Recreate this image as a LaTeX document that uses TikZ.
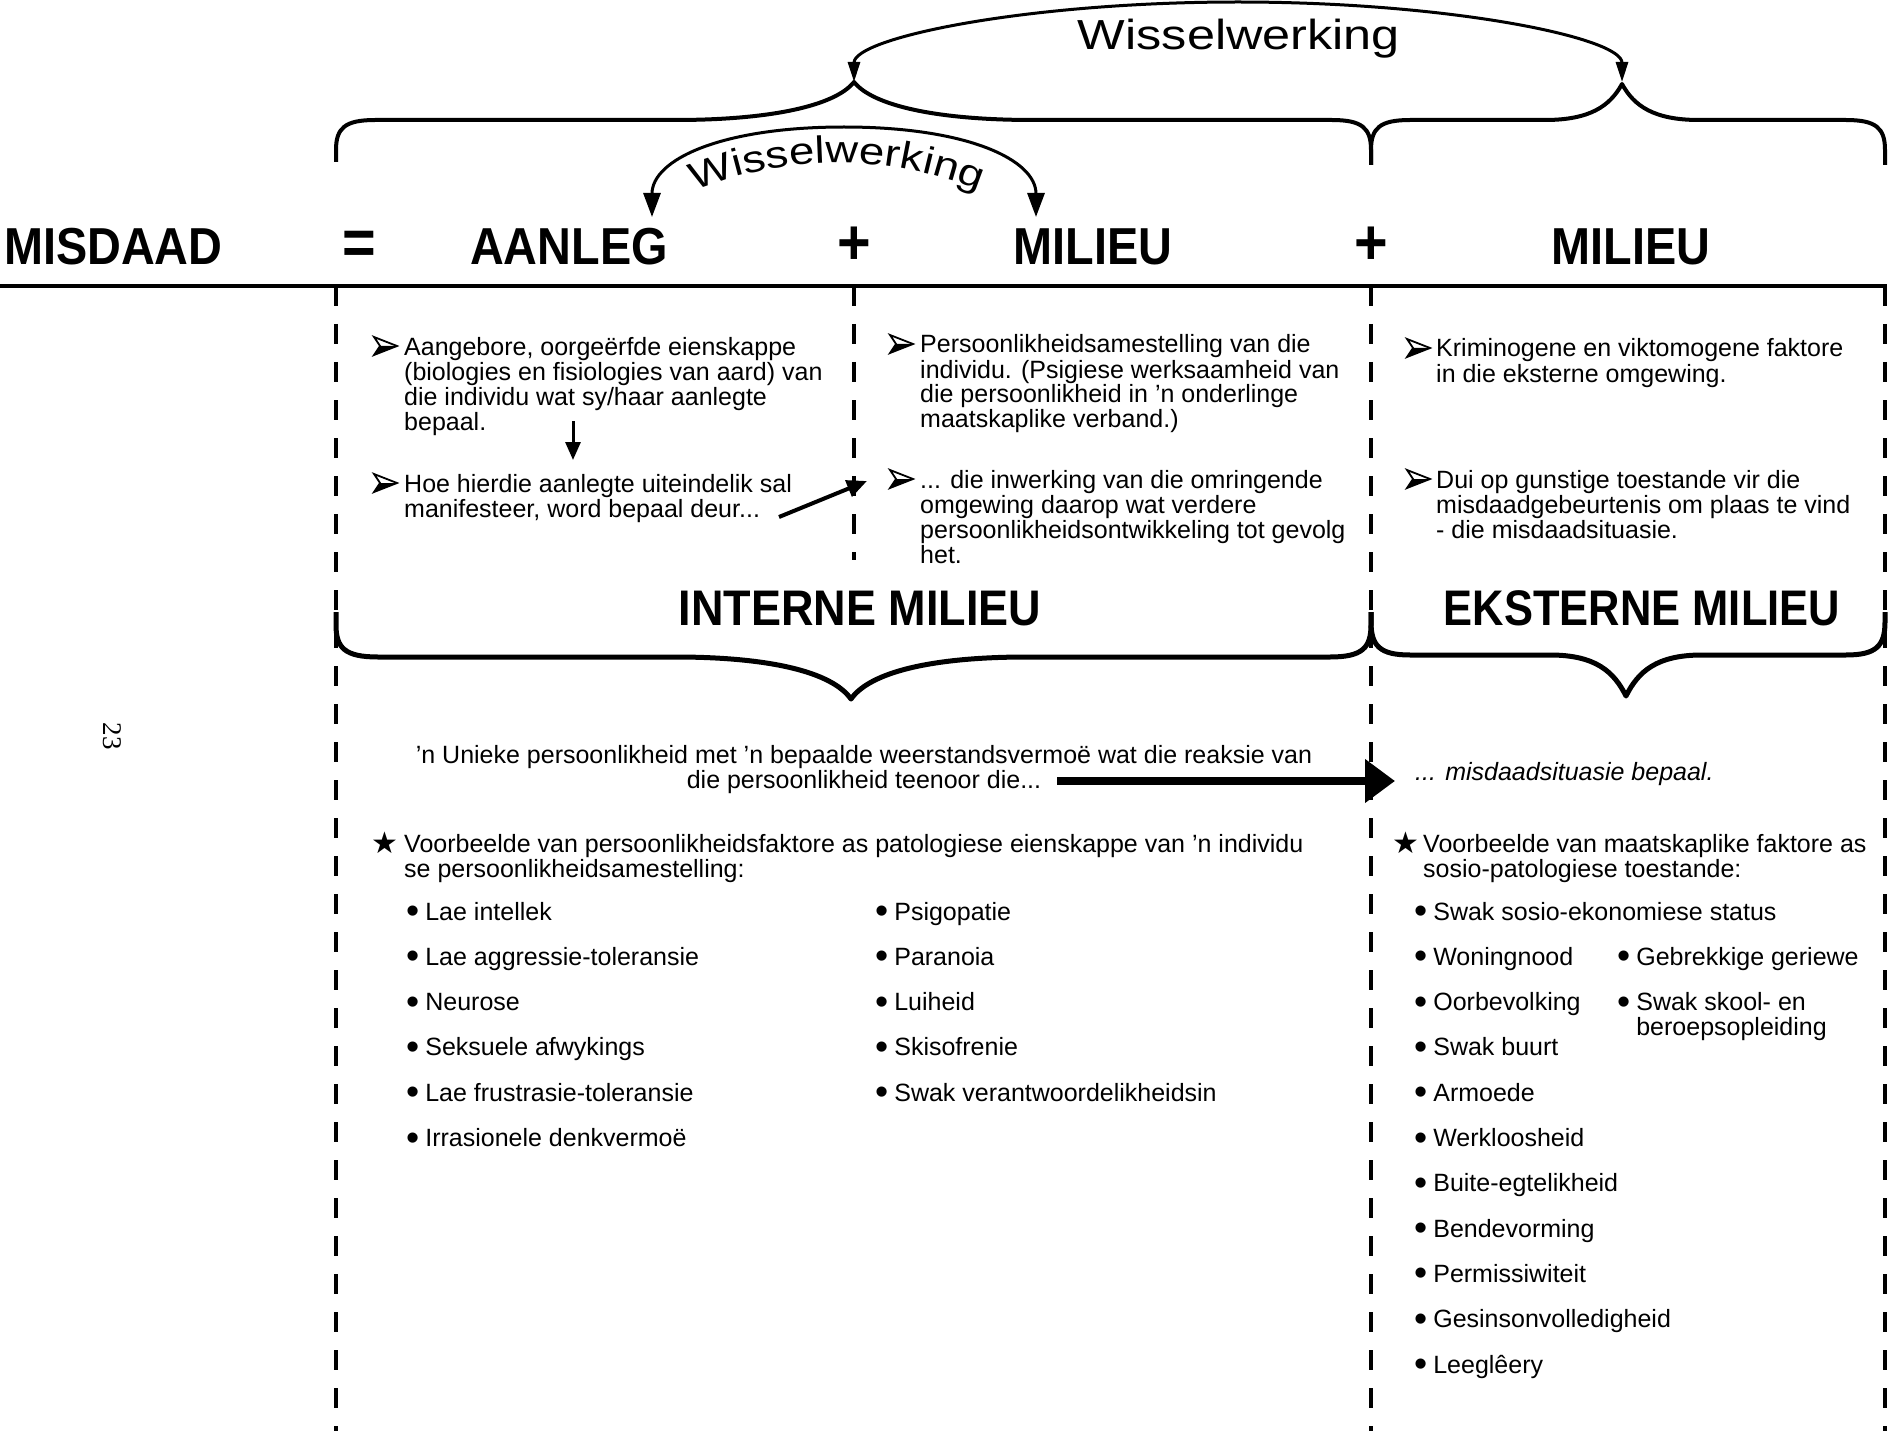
\documentclass[tikz,border=0pt]{standalone}
\usepackage{fontspec}
\usepackage{graphicx}
\setmainfont{Liberation Sans}
\newfontfamily\hdrfont{Liberation Sans}[FakeStretch=0.9]
\newfontfamily\hdrfontn{Liberation Sans}[FakeStretch=0.87]
\newfontfamily\wwfont{Liberation Sans}[FakeStretch=1.2]
\newfontfamily\symfont{DejaVu Sans}
\newfontfamily\pgnfont{Liberation Serif}
\newcommand\bul{\raisebox{-3.5pt}{\scalebox{1.5}{•}}\hspace{6pt}}
\usetikzlibrary{arrows.meta,decorations.text}
\tikzset{
  hdr/.style={font=\hdrfont\bfseries\fontsize{52}{52}\selectfont, inner sep=0pt, anchor=base},
  opr/.style={font=\hdrfont\bfseries\fontsize{64}{64}\selectfont, inner sep=0pt, anchor=base},
  body/.style={font=\fontsize{25}{25}\selectfont, inner sep=0pt, align=left, anchor=base west},
  dline/.style={line width=4.5pt, dash pattern=on 20pt off 18pt},
  brc/.style={line width=4pt, line join=round},
  brcb/.style={line width=5pt, line join=round},
  arrb/.pic={
    \fill (-5,0) -- (12,0) -- (-11,-9) -- cycle;
    \draw[line width=1.8pt, line join=miter] (-11,9) -- (12,0) -- (-11,-9) -- (-5,0) -- cycle;
  },
  starsym/.style={font=\symfont\fontsize{30}{30}\selectfont, inner sep=0pt},
}
\begin{document}
\begin{tikzpicture}[x=1pt, y=1pt]
\useasboundingbox (0,0) rectangle (1891,-1431);

% ---------- header row ----------
\node[hdr, anchor=base west] (misdaad) at (4,-265) {MISDAAD};
\node[opr] (eq) at (359,-265) {=};
\node[hdr] (aanleg) at (569,-265) {AANLEG};
\node[opr] (plus1) at (854,-265) {+};
\node[hdr] (milieu1) at (1093,-265) {MILIEU};
\node[opr] (plus2) at (1371,-265) {+};
\node[hdr] (milieu2) at (1631,-265) {MILIEU};

% main rule and dashed columns
\draw[line width=4pt] (0,-286) -- (1887,-286);
\draw[dline] (336,-286) -- (336,-1431);
\draw[dline] (854,-286) -- (854,-560);
\draw[dline] (1371,-286) -- (1371,-1431);
\draw[dline] (1885,-286) -- (1885,-1431);

% ---------- top braces ----------
\draw[brc] (336,-162) -- (336,-150) .. controls (336,-128) and (345,-120) .. (375,-120)
  -- (675,-120) .. controls (770,-120) and (835,-106) .. (854,-82)
  .. controls (873,-106) and (938,-120) .. (1033,-120)
  -- (1332,-120) .. controls (1362,-120) and (1371,-128) .. (1371,-150) -- (1371,-165);
\draw[brc] (1371,-165) -- (1371,-150) .. controls (1371,-128) and (1380,-120) .. (1410,-120)
  -- (1545,-120) .. controls (1590,-120) and (1610,-106) .. (1622,-84)
  .. controls (1634,-106) and (1654,-120) .. (1699,-120)
  -- (1846,-120) .. controls (1876,-120) and (1885,-128) .. (1885,-150) -- (1885,-165);

% big Wisselwerking arc
\coordinate (wwL) at (854,-82);
\draw[line width=3pt, {Triangle[length=20pt,width=12pt]}-{Triangle[length=20pt,width=12pt]}]
  (wwL) arc[start angle=180, end angle=0, x radius=384, y radius=80];
\node[font=\wwfont\fontsize{42}{42}\selectfont, inner sep=0pt, anchor=base] (ww1) at (1239,-50) {Wisselwerking};

% small Wisselwerking arc
\coordinate (swL) at (652,-217);
\coordinate (swR) at (1036,-217);
\draw[line width=3pt, {Triangle[length=24pt,width=17pt]}-{Triangle[length=24pt,width=17pt]}]
  (swL) .. controls (652,-160) and (720,-127) .. (844,-127)
  .. controls (968,-127) and (1036,-160) .. (swR);
\path[decorate, decoration={text along path, text align=center,
  text={|\wwfont\fontsize{38}{38}\selectfont|Wisselwerking}}]
  (837,-542) ++(120:379) arc[start angle=120, end angle=60, radius=379];

% ---------- upper column texts (base = last line) ----------
\pic at (385,-346) {arrb};
\node[body] (a1) at (404,-430) {Aangebore, oorgeërfde eienskappe\\(biologies en fisiologies van aard) van\\die individu wat sy/haar aanlegte\\bepaal.};
\pic at (385,-483) {arrb};
\node[body] (a2) at (404,-517) {Hoe hierdie aanlegte uiteindelik sal\\manifesteer, word bepaal deur...};

\pic at (901,-344) {arrb};
\node[body] (m1) at (920,-428) {Persoonlikheidsamestelling van die\\individu. (Psigiese werksaamheid van\\die persoonlikheid in 'n onderlinge\\maatskaplike verband.)};
\pic at (901,-479) {arrb};
\node[body] (m2) at (920,-563) {... die inwerking van die omringende\\omgewing daarop wat verdere\\persoonlikheidsontwikkeling tot gevolg\\het.};

\pic at (1418,-348) {arrb};
\node[body] (e1) at (1436,-382) {Kriminogene en viktomogene faktore\\in die eksterne omgewing.};
\pic at (1418,-479) {arrb};
\node[body] (e2) at (1436,-538) {Dui op gunstige toestande vir die\\misdaadgebeurtenis om plaas te vind\\- die misdaadsituasie.};

% small arrows
\coordinate (d1) at (573,-421);
\coordinate (d2) at (573,-460);
\draw[line width=3pt, -{Triangle[length=18pt,width=15pt]}] (d1) -- (d2);
\coordinate (g1) at (779,-517);
\coordinate (g2) at (867,-481);
\draw[line width=4pt, -{Triangle[length=20pt,width=17pt]}] (g1) -- (g2);

% ---------- INTERNE / EKSTERNE ----------
\node[hdr, font=\hdrfont\bfseries\fontsize{50}{50}\selectfont] (intern) at (860,-625) {INTERNE MILIEU};
\node[hdr, font=\hdrfontn\bfseries\fontsize{50}{50}\selectfont] (extern) at (1642,-625) {EKSTERNE MILIEU};

\draw[brcb] (336,-612) -- (336,-625) .. controls (336,-648) and (345,-657) .. (378,-657)
  -- (675,-657) .. controls (770,-657) and (832,-672) .. (851,-699)
  .. controls (870,-672) and (932,-657) .. (1027,-657)
  -- (1330,-657) .. controls (1362,-657) and (1371,-648) .. (1371,-625) -- (1371,-612);
\draw[brcb] (1371,-612) -- (1371,-622) .. controls (1371,-646) and (1380,-655) .. (1410,-655)
  -- (1550,-655) .. controls (1596,-655) and (1614,-672) .. (1626,-696)
  .. controls (1638,-672) and (1656,-655) .. (1702,-655)
  -- (1846,-655) .. controls (1876,-655) and (1885,-646) .. (1885,-622) -- (1885,-612);

% ---------- lower part ----------
\node[body, align=center, anchor=base] (uniek) at (864,-788) {'n Unieke persoonlikheid met 'n bepaalde weerstandsvermoë wat die reaksie van\\die persoonlikheid teenoor die...};
\node[body, font=\itshape\fontsize{25}{25}\selectfont] (sit) at (1415,-780) {... misdaadsituasie bepaal.};
\coordinate (b1) at (1057,-781);
\coordinate (b2) at (1395,-781);
\draw[line width=8pt, -{Triangle[length=30pt,width=42pt]}] (b1) -- (b2);

\node[font=\pgnfont\fontsize{27}{27}\selectfont, rotate=-90, inner sep=0pt] (pg) at (112,-736) {23};

\node[starsym] (st1) at (385,-843) {★};
\node[body] (vb1) at (404,-877) {Voorbeelde van persoonlikheidsfaktore as patologiese eienskappe van 'n individu\\se persoonlikheidsamestelling:};
\node[starsym] (st2) at (1406,-843) {★};
\node[body] (vb2) at (1423,-877) {Voorbeelde van maatskaplike faktore as\\sosio-patologiese toestande:};

\foreach \t [count=\i from 0] in {Lae intellek, Lae aggressie-toleransie, Neurose, Seksuele afwykings, Lae frustrasie-toleransie, Irrasionele denkvermoë}
  \node[body] (L\i) at (406,{-920-45.3*\i}) {\bul\t};
\foreach \t [count=\i from 0] in {Psigopatie, Paranoia, Luiheid, Skisofrenie, Swak verantwoordelikheidsin}
  \node[body] (R\i) at (875,{-920-45.3*\i}) {\bul\t};
\foreach \t [count=\i from 0] in {Swak sosio-ekonomiese status, Woningnood, Oorbevolking, Swak buurt, Armoede, Werkloosheid, Buite-egtelikheid, Bendevorming, Permissiwiteit, Gesinsonvolledigheid, Leeglêery}
  \node[body] (E\i) at (1414,{-920-45.3*\i}) {\bul\t};
\node[body] (F1) at (1617,-965.3) {\bul Gebrekkige geriewe};
\node[body] (F2) at (1617,-1035.6) {\bul Swak skool- en\\\phantom{\bul}beroepsopleiding};
\end{tikzpicture}
\end{document}
